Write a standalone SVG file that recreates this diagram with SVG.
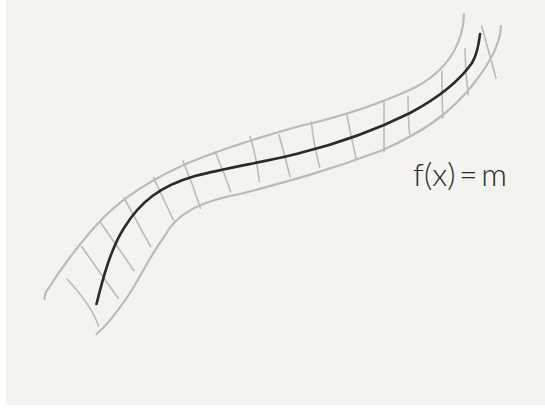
<svg xmlns="http://www.w3.org/2000/svg" width="545" height="411" viewBox="0 0 545 411">
  <style>
    .edge { fill: none; stroke: #bcbcb5; stroke-width: 2.2; stroke-linecap: round; stroke-linejoin: round; }
    .hatch { fill: none; stroke: #bcbcb5; stroke-width: 1.6; stroke-linecap: round; }
    .curve { fill: none; stroke: #2a2a2a; stroke-width: 2.6; stroke-linecap: round; stroke-linejoin: round; }
    .label { font-family: "Lato", "Open Sans", "Liberation Sans", sans-serif; font-weight: 300; font-size: 32px; word-spacing: -5px; fill: #2a2a2a; }
  </style>
  <rect x="0" y="0" width="545" height="411" fill="#ffffff"/>
  <rect x="6" y="0" width="539" height="405" fill="#f4f3f0"/>
  <g id="band-edges">
    <path class="edge" d="M44.5,299 C44.5,296 45,294 46,292 C60,270 80,242 104,217 C125,196 150,180 188,163 C220,150 260,137 300,126 C340,117 380,104 416,87 C440,74 455,55 461,34 C463,27 464,20 464,14"/>
    <path class="edge" d="M96.5,334 C105,327 115,315 128,296 C140,278 150,256 164,237 C176,214 198,202 240,194 C290,181 330,170 383,150 C420,133 450,115 475,82 C490,62 500,45 501,26"/>
  </g>
  <g id="hatches">
    <path class="hatch" d="M67,279 C80,293 93,309 98.5,326"/>
    <path class="hatch" d="M81.7,246.7 L118.2,298.3"/>
    <path class="hatch" d="M100.7,222.7 L134,270.7"/>
    <path class="hatch" d="M124,198 L150.7,246.7"/>
    <path class="hatch" d="M153.5,177.5 L173.3,220"/>
    <path class="hatch" d="M183,161 Q193,185 200.5,208.3"/>
    <path class="hatch" d="M215,151.7 Q224,172 230.7,191.7"/>
    <path class="hatch" d="M250,136.5 Q257,158 259.3,181.7"/>
    <path class="hatch" d="M279,135 Q285,156 290,176.7"/>
    <path class="hatch" d="M311.3,122 Q314,147 319.7,167"/>
    <path class="hatch" d="M346.7,114 Q351,137 356.3,159"/>
    <path class="hatch" d="M384,102.5 L384,151.7"/>
    <path class="hatch" d="M408,96.7 Q408,118 409.7,135"/>
    <path class="hatch" d="M441.7,71 L442.7,118.3"/>
    <path class="hatch" d="M465,48.3 Q465,72 468.3,95"/>
    <path class="hatch" d="M481.7,26 L496,78.3"/>
  </g>
  <g id="function-curve">
    <path class="curve" d="M96.5,304 C102,282 110,250 124,228 C140,202 160,186 195,176 C230,167 270,161 300,153 C340,143 380,128 410,113 C440,97 460,80 472,63 C478,53 479,42 480,34"/>
  </g>
  <g id="label">
    <text class="label" x="413" y="186">f(x) = m</text>
  </g>
</svg>
